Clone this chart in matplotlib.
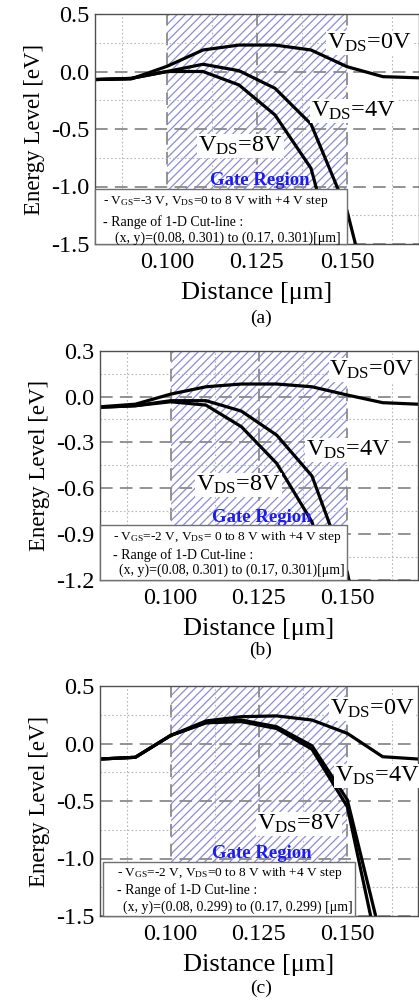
import matplotlib
matplotlib.use("Agg")
import matplotlib.pyplot as plt
from matplotlib.patches import Rectangle

plt.rcParams['font.family'] = ['Liberation Serif', 'DejaVu Serif']
plt.rcParams['mathtext.fontset'] = 'custom'
plt.rcParams['mathtext.rm'] = 'Liberation Serif'
plt.rcParams['mathtext.it'] = 'Liberation Serif:italic'
plt.rcParams['mathtext.bf'] = 'Liberation Serif:bold'
plt.rcParams['axes.unicode_minus'] = False
plt.rcParams['hatch.linewidth'] = 0.9

# ---------------- data ----------------
distance = [0.08, 0.09, 0.10, 0.11, 0.12, 0.13, 0.14, 0.15, 0.16, 0.17]

a_vds0 = [-0.07, -0.065, 0.045, 0.187, 0.23, 0.23, 0.187, 0.042, -0.045, -0.055]
a_vds4 = [-0.07, -0.06, 0.0, 0.063, 0.007, -0.146, -0.457, -1.21, -2.45, -3.5]
a_vds8 = [-0.07, -0.06, 0.0, 0.0, -0.117, -0.378, -0.842, -2.0, -3.2, -4.4]

b_vds0 = [-0.067, -0.05, 0.016, 0.064, 0.082, 0.082, 0.064, 0.01, -0.04, -0.05]
b_vds4 = [-0.07, -0.06, -0.027, -0.027, -0.095, -0.252, -0.52, -1.15, -2.3, -3.4]
b_vds8 = [-0.07, -0.06, -0.034, -0.056, -0.197, -0.437, -0.82, -1.6, -2.6, -3.6]

c_vds0 = [-0.135, -0.12, 0.07, 0.196, 0.233, 0.24, 0.204, 0.088, -0.115, -0.135]
c_vds4 = [-0.135, -0.12, 0.07, 0.18, 0.204, 0.146, -0.02, -0.49, -1.75, -3.0]
c_vds8 = [-0.135, -0.12, 0.07, 0.18, 0.19, 0.13, -0.05, -0.55, -1.99, -3.4]

gate_region = (0.100, 0.150)
x_major = [0.100, 0.125, 0.150]
x_minor = [0.0875, 0.1125, 0.1375, 0.1625]

a_ylim = (-1.5, 0.5)
a_yticks = [-1.5, -1.0, -0.5, 0.0, 0.5]
a_yminor = [-1.25, -0.75, -0.25, 0.25]
b_ylim = (-1.2, 0.3)
b_yticks = [-1.2, -0.9, -0.6, -0.3, 0.0, 0.3]
b_yminor = [-1.05, -0.75, -0.45, -0.15, 0.15]

series_labels = ['0V', '4V', '8V']

panels = [
    dict(series=[a_vds0, a_vds4, a_vds8], ylim=a_ylim, yticks=a_yticks, yminor=a_yminor,
         rect=[95/419, 1-244/1002, 324/419, 230/1002],
         vgs='-3', cut='(x, y)=(0.08, 0.301) to (0.17, 0.301)[\u03bcm]', vds_sep='=0 to 8 V',
         labpos=[(0.1444, 0.20), (0.140, -0.393), (0.1086, -0.697)],
         gate=(0.1257, -0.95),
         boxx=(0.0, 0.778), boxtop=-1.02,
         txt=[(0.025, 0.188), (0.025, 0.097), (0.062, 0.024)],
         cap='(a)', capy=318),
    dict(series=[b_vds0, b_vds4, b_vds8], ylim=b_ylim, yticks=b_yticks, yminor=b_yminor,
         rect=[100/419, 1-580/1002, 318/419, 229.3/1002],
         vgs='-2', cut='(x, y)=(0.08, 0.301) to (0.17, 0.301)[\u03bcm]', vds_sep='= 0 to 8 V',
         labpos=[(0.1449, 0.134), (0.1383, -0.389), (0.1072, -0.616)],
         gate=(0.1258, -0.79),
         boxx=(0.0, 0.778), boxtop=-0.84,
         txt=[(0.041, 0.189), (0.041, 0.109), (0.060, 0.044)],
         cap='(b)', capy=650),
    dict(series=[c_vds0, c_vds4, c_vds8], ylim=a_ylim, yticks=a_yticks, yminor=a_yminor,
         rect=[100/419, 1-916/1002, 318/419, 230/1002],
         vgs='-2', cut='(x, y)=(0.08, 0.299) to (0.17, 0.299) [\u03bcm]', vds_sep='=0 to 8 V',
         labpos=[(0.1451, 0.248), (0.1465, -0.332), (0.1243, -0.752)],
         gate=(0.1258, -0.955),
         boxx=(0.009, 0.801), boxtop=-1.028,
         txt=[(0.053, 0.188), (0.053, 0.113), (0.073, 0.040)],
         cap='(c)', capy=988),
]

fig = plt.figure(figsize=(4.19, 10.02), dpi=100)

for p in panels:
    ax = fig.add_axes(p['rect'])
    ax.set_xlim(0.08, 0.17)
    ax.set_ylim(*p['ylim'])
    ax.set_axisbelow('line')

    # gate region hatch
    ax.axvspan(gate_region[0], gate_region[1], facecolor='white', edgecolor='#8c8cd8',
               linewidth=0, hatch='////', zorder=1)

    # grids
    ax.set_xticks(x_major)
    ax.set_xticks(x_minor, minor=True)
    ax.set_yticks(p['yticks'])
    ax.set_yticks(p['yminor'], minor=True)
    ax.grid(True, which='major', color='#8a8a8a', linestyle=(0, (7, 4)), linewidth=1.3)
    ax.grid(True, which='minor', color='#b8b8b8', linestyle=(0, (1.5, 2)), linewidth=0.8)
    ax.xaxis.set_major_formatter(matplotlib.ticker.FuncFormatter(lambda v, _: f'{v:.3f}'))
    ax.yaxis.set_major_formatter(matplotlib.ticker.FuncFormatter(lambda v, _: f'{v:.1f}'))
    ax.tick_params(which='both', length=0)
    ax.tick_params(axis='x', labelsize=17.5, pad=6)
    ax.tick_params(axis='y', labelsize=17.5, pad=4)
    for s in ax.spines.values():
        s.set_color('#505050')
        s.set_linewidth(1.0)

    for ys in p['series']:
        ax.plot(distance, ys, color='black', linewidth=2.3, zorder=2, solid_joinstyle='miter')

    # V_DS labels
    for (lx, ly), lab in zip(p['labpos'], series_labels):
        ax.text(lx, ly, r'$\mathregular{V_{DS}}$=' + lab, fontsize=17.5, ha='left', va='baseline',
                zorder=5, bbox=dict(facecolor='white', edgecolor='none', pad=0.5))

    ax.text(p['gate'][0], p['gate'][1], 'Gate Region', color='#1c1cf0', fontweight='bold',
            fontsize=13.5, ha='center', va='center', zorder=4)

    # info box
    x0, x1 = p['boxx']
    ytop = p['boxtop']
    ylo = p['ylim'][0]
    ax.add_patch(Rectangle((0.08 + x0 * 0.09, ylo), (x1 - x0) * 0.09, ytop - ylo,
                           facecolor='white', edgecolor='#707070', linewidth=1.0, zorder=6,
                           clip_on=False))
    (t1x, t1y), (t2x, t2y), (t3x, t3y) = p['txt']
    ax.text(t1x, t1y, r'- V$_{\mathregular{GS}}$=' + p['vgs'] + r' V, V$_{\mathregular{DS}}$'
            + p['vds_sep'] + ' with +4 V step', transform=ax.transAxes, fontsize=9.6,
            ha='left', va='center', zorder=7)
    ax.text(t2x, t2y, '- Range of 1-D Cut-line :', transform=ax.transAxes, fontsize=10.0,
            ha='left', va='center', zorder=7)
    ax.text(t3x, t3y, p['cut'], transform=ax.transAxes, fontsize=10.0,
            ha='left', va='center', zorder=7)

    ax.set_xlabel('Distance [\u03bcm]', fontsize=19, labelpad=6)
    ax.set_ylabel('Energy Level [eV]', fontsize=16.5, labelpad=4)

    fig.text(261/419, 1 - p['capy']/1002, p['cap'], fontsize=14, ha='center', va='center')

fig.savefig('out.png', dpi=100)
